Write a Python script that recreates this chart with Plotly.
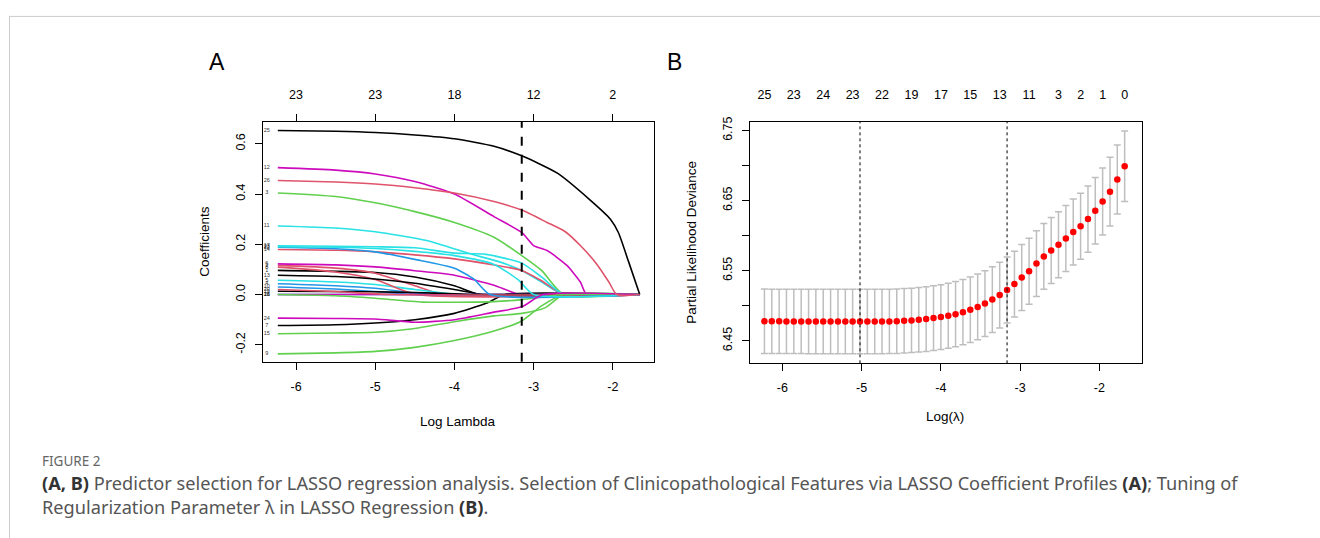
import plotly.graph_objects as go

# ---------------- Panel A data: LASSO coefficient paths ----------------
# each variable: (log-lambda knots, coefficient values)
coef_paths = {
    1:  ([-6.23, -5.0, -4.5, -4.0, -3.68], [0.096, 0.088, 0.070, 0.035, 0.0]),
    2:  ([-6.23, -5.5, -5.0, -4.5, -4.14], [0.116, 0.105, 0.085, 0.035, 0.0]),
    3:  ([-6.23, -5.5, -5.0, -4.5, -4.0, -3.5, -3.15, -2.9, -2.62], [0.404, 0.39, 0.365, 0.33, 0.287, 0.228, 0.155, 0.096, 0.0]),
    4:  ([-6.23, -5.5, -5.0, -4.3], [0.043, 0.035, 0.025, 0.0]),
    5:  ([-6.23, -5.5, -5.0, -4.5, -3.93], [0.057, 0.05, 0.04, 0.02, 0.0]),
    6:  ([-6.23, -5.5, -5.0, -4.5, -4.0, -3.5, -3.17], [0.122, 0.118, 0.11, 0.095, 0.077, 0.037, 0.0]),
    7:  ([-6.23, -5.5, -5.0, -4.5, -4.0, -3.6, -3.36], [-0.123, -0.12, -0.113, -0.1, -0.075, -0.035, 0.0]),
    8:  ([-6.23, -5.5, -5.0, -4.48], [0.109, 0.09, 0.06, 0.0]),
    9:  ([-6.23, -5.5, -5.0, -4.5, -4.0, -3.5, -3.15, -2.9, -2.62], [-0.236, -0.232, -0.226, -0.21, -0.183, -0.145, -0.105, -0.045, 0.0]),
    10: ([-6.23, -5.5, -5.0, -4.48], [0.03, 0.022, 0.012, 0.0]),
    11: ([-6.23, -5.5, -5.0, -4.35, -3.8, -3.42, -3.15, -2.9, -2.62], [0.273, 0.265, 0.25, 0.215, 0.162, 0.129, 0.096, 0.05, 0.0]),
    12: ([-6.23, -5.5, -5.0, -4.5, -4.0, -3.5, -3.15, -3.0, -2.83, -2.58, -2.41, -2.33], [0.505, 0.495, 0.48, 0.45, 0.40, 0.31, 0.247, 0.195, 0.175, 0.116, 0.05, 0.0]),
    13: ([-6.23, -5.5, -5.0, -4.5, -4.0, -3.63], [0.077, 0.072, 0.062, 0.045, 0.02, 0.0]),
    14: ([-6.23, -5.5, -5.0, -4.5, -4.0, -3.5, -3.15, -2.9, -2.62], [0.179, 0.176, 0.17, 0.158, 0.142, 0.118, 0.096, 0.055, 0.0]),
    15: ([-6.23, -5.5, -5.0, -4.5, -4.0, -3.5, -3.15, -2.85, -2.62], [-0.156, -0.153, -0.15, -0.135, -0.108, -0.085, -0.075, -0.052, 0.0]),
    16: ([-6.23, -1.66], [0.0, 0.0]),
    17: ([-6.23, -5.5, -5.0, -4.5, -4.0, -3.6, -3.15, -2.9, -2.62], [0.194, 0.192, 0.19, 0.186, 0.165, 0.16, 0.125, 0.07, 0.0]),
    18: ([-6.23, -1.66], [0.0, 0.0]),
    19: ([-6.23, -5.0, -4.5, -4.0, -3.75], [0.013, 0.011, 0.008, 0.003, 0.0]),
    20: ([-6.23, -5.5, -4.8], [0.02, 0.012, 0.0]),
    21: ([-6.23, -5.5, -5.0, -4.4, -3.5, -3.15, -2.62], [0.0, -0.005, -0.015, -0.03, -0.028, -0.02, 0.0]),
    22: ([-6.23, -5.5, -5.0, -4.5, -4.0, -3.75, -3.55], [0.188, 0.182, 0.17, 0.14, 0.105, 0.06, 0.0]),
    23: ([-6.23, -5.5, -5.0, -4.5, -4.0, -3.5, -3.2, -3.0], [0.19, 0.188, 0.183, 0.172, 0.155, 0.12, 0.06, 0.0]),
    24: ([-6.23, -5.5, -5.0, -4.5, -4.0, -3.5, -3.15, -2.88], [-0.094, -0.095, -0.097, -0.11, -0.10, -0.07, -0.049, 0.0]),
    25: ([-6.23, -5.5, -5.0, -4.5, -4.0, -3.5, -3.15, -2.7, -2.3, -2.03, -1.93, -1.8, -1.66], [0.653, 0.65, 0.645, 0.635, 0.62, 0.59, 0.552, 0.483, 0.38, 0.30, 0.247, 0.13, 0.0]),
    26: ([-6.23, -5.5, -5.0, -4.5, -4.0, -3.5, -3.15, -2.83, -2.6, -2.41, -2.2, -2.05, -1.95], [0.454, 0.448, 0.44, 0.425, 0.404, 0.37, 0.336, 0.287, 0.25, 0.195, 0.12, 0.05, 0.0]),
}
path_end = -1.66
r_palette = ["#000000", "#DF536B", "#61D04F", "#2297E6", "#28E2E5", "#CD0BBC"]

a_bottom_ticks = [-6, -5, -4, -3, -2]
a_top_labels = ["23", "23", "18", "12", "2"]
a_y_ticks = [-0.2, 0.0, 0.2, 0.4, 0.6]
a_y_labels = ["-0.2", "0.0", "0.2", "0.4", "0.6"]
a_cut = -3.15

# ---------------- Panel B data: cross-validation curve ----------------
log_lambda = [-6.226, -6.133, -6.040, -5.948, -5.855, -5.762, -5.669, -5.577, -5.484, -5.391,
              -5.298, -5.205, -5.113, -5.020, -4.927, -4.834, -4.742, -4.649, -4.556, -4.463,
              -4.370, -4.278, -4.185, -4.092, -3.999, -3.906, -3.814, -3.721, -3.628, -3.535,
              -3.443, -3.350, -3.257, -3.164, -3.071, -2.979, -2.886, -2.793, -2.700, -2.607,
              -2.515, -2.422, -2.329, -2.236, -2.143, -2.051, -1.958, -1.865, -1.773, -1.680]
cv_mean = [6.4780, 6.4779, 6.4779, 6.4778, 6.4778, 6.4778, 6.4777, 6.4777, 6.4777, 6.4777,
           6.4776, 6.4776, 6.4776, 6.4776, 6.4776, 6.4777, 6.4777, 6.4778, 6.4780, 6.4787,
           6.4792, 6.4801, 6.4811, 6.4825, 6.4839, 6.4858, 6.4881, 6.4910, 6.4943, 6.4985,
           6.5032, 6.5089, 6.5154, 6.5225, 6.5310, 6.5404, 6.5493, 6.5602, 6.5705, 6.5790,
           6.5870, 6.5960, 6.6054, 6.6134, 6.6237, 6.6355, 6.6487, 6.6628, 6.6802, 6.6991]
cv_se = [0.0459, 0.0459, 0.0459, 0.0459, 0.0459, 0.0459, 0.0459, 0.0459, 0.0459, 0.0459,
         0.0459, 0.0459, 0.0459, 0.0459, 0.0459, 0.0459, 0.0459, 0.0459, 0.0459, 0.0459,
         0.0459, 0.0460, 0.0461, 0.0462, 0.0463, 0.0464, 0.0465, 0.0466, 0.0467, 0.0468,
         0.0468, 0.0469, 0.0469, 0.0470, 0.0470, 0.0470, 0.0470, 0.0470, 0.0470, 0.0470,
         0.0470, 0.0470, 0.0471, 0.0471, 0.0472, 0.0474, 0.0478, 0.0490, 0.0492, 0.0504]
b_top_index = [0, 4, 8, 12, 16, 20, 24, 28, 32, 36, 40, 43, 46, 49]
b_top_labels = ["25", "23", "24", "23", "22", "19", "17", "15", "13", "11", "3", "2", "1", "0"]
b_bottom_ticks = [-6, -5, -4, -3, -2]
b_y_ticks = [6.45, 6.50, 6.55, 6.60, 6.65, 6.70, 6.75]
b_y_labels = ["6.45", "", "6.55", "", "6.65", "", "6.75"]
lambda_min = -5.02
lambda_1se = -3.164

# ---------------- figure ----------------
W, H = 1320, 538
fig = go.Figure()

for var, (xs, ys) in coef_paths.items():
    xx = list(xs)
    yy = list(ys)
    if xx[-1] < path_end:
        xx.append(path_end)
        yy.append(0.0)
    fig.add_trace(go.Scatter(
        x=xx, y=yy, mode="lines", xaxis="x", yaxis="y",
        line=dict(color=r_palette[(var - 1) % 6], width=1.6, shape="spline", smoothing=0.6),
        hoverinfo="skip", showlegend=False))

# variable labels at left end of paths
fig.add_trace(go.Scatter(
    x=[-6.37] * len(coef_paths), y=[v[1][0] for v in coef_paths.values()],
    text=[str(k) for k in coef_paths.keys()], mode="text",
    textfont=dict(size=5.5, color="#333333", family="Liberation Sans"),
    xaxis="x", yaxis="y", hoverinfo="skip", showlegend=False))

# dummy trace for top axis of A
fig.add_trace(go.Scatter(x=a_bottom_ticks, y=[None] * 5, xaxis="x2", yaxis="y",
                         mode="markers", marker=dict(opacity=0), hoverinfo="skip", showlegend=False))

# Panel B CV curve: error bars then points
fig.add_trace(go.Scatter(
    x=log_lambda, y=cv_mean, mode="markers", xaxis="x3", yaxis="y3",
    marker=dict(color="rgba(0,0,0,0)", size=1),
    error_y=dict(type="data", array=cv_se, color="#BEBEBE", thickness=1.5, width=3.5),
    hoverinfo="skip", showlegend=False))
fig.add_trace(go.Scatter(x=[log_lambda[i] for i in b_top_index], y=[None] * len(b_top_index),
                         xaxis="x4", yaxis="y3", mode="markers", marker=dict(opacity=0),
                         hoverinfo="skip", showlegend=False))
fig.add_trace(go.Scatter(
    x=log_lambda, y=cv_mean, mode="markers", xaxis="x3", yaxis="y3",
    marker=dict(color="#FF0000", size=6.5), hoverinfo="skip", showlegend=False))

tickfont = dict(family="Liberation Sans", size=12.5, color="#000000")
ax_common = dict(showgrid=False, zeroline=False, showline=True, linecolor="#000000", linewidth=1,
                 ticks="outside", ticklen=7, tickcolor="#000000", tickwidth=1, tickfont=tickfont)

a_x_dom = [263 / W, 654 / W]
b_x_dom = [750 / W, 1141.7 / W]
y_dom_a = [1 - 360 / H, 1 - 118 / H]
y_dom_b = [1 - 361.7 / H, 1 - 118 / H]
a_xr = [-6.417, -1.48]
b_xr = [-6.408, -1.465]

fig.update_layout(
    width=W, height=H, margin=dict(l=0, r=0, t=0, b=0),
    paper_bgcolor="white", plot_bgcolor="white",
    xaxis=dict(domain=a_x_dom, range=a_xr, anchor="y", mirror=True,
               tickvals=a_bottom_ticks, ticktext=[str(t) for t in a_bottom_ticks],
               ticklabelstandoff=6, **ax_common),
    xaxis2=dict(overlaying="x", side="top", anchor="y", range=a_xr,
                tickvals=a_bottom_ticks, ticktext=a_top_labels, ticklabelstandoff=10, **ax_common),
    yaxis=dict(domain=y_dom_a, range=[-0.267, 0.687], anchor="x", mirror=True,
               tickvals=a_y_ticks, ticktext=a_y_labels, tickangle=-90, ticklabelstandoff=5, **ax_common),
    xaxis3=dict(domain=b_x_dom, range=b_xr, anchor="y3", mirror=True,
                tickvals=b_bottom_ticks, ticktext=[str(t) for t in b_bottom_ticks],
                ticklabelstandoff=6, **ax_common),
    xaxis4=dict(overlaying="x3", side="top", anchor="y3", range=b_xr,
                tickvals=[log_lambda[i] for i in b_top_index], ticktext=b_top_labels,
                showgrid=False, zeroline=False, showline=False, ticks="", tickfont=tickfont,
                ticklabelstandoff=19),
    yaxis3=dict(domain=y_dom_b, range=[6.418, 6.7623], anchor="x3", mirror=True,
                tickvals=b_y_ticks, ticktext=b_y_labels, tickangle=-90, ticklabelstandoff=5, **ax_common),
)

# reference vertical lines
fig.add_shape(type="line", xref="x", yref="y domain", x0=a_cut, x1=a_cut, y0=0, y1=1,
              line=dict(color="#000000", width=2, dash="dash"))
for v in (lambda_min, lambda_1se):
    fig.add_shape(type="line", xref="x3", yref="y3 domain", x0=v, x1=v, y0=0, y1=1,
                  line=dict(color="#000000", width=1, dash="dot"))

# page frame
fig.add_shape(type="line", xref="paper", yref="paper", x0=9.5 / W, x1=9.5 / W, y0=0, y1=1 - 11.5 / H,
              line=dict(color="#CCCCCC", width=1))
fig.add_shape(type="line", xref="paper", yref="paper", x0=9.5 / W, x1=1, y0=1 - 11.5 / H, y1=1 - 11.5 / H,
              line=dict(color="#CCCCCC", width=1))

def ann(text, x, y, size, angle=0, color="#000000", family="Liberation Sans", xanchor="center"):
    fig.add_annotation(text=text, x=x / W, y=1 - y / H, xref="paper", yref="paper",
                       showarrow=False, textangle=angle, xanchor=xanchor, yanchor="middle",
                       font=dict(size=size, color=color, family=family))

ann("Log Lambda", 458, 420, 13.5)
ann("Coefficients", 205, 239, 13.5, angle=-90)
ann("Log(λ)", 945, 415, 13.5)
ann("Partial Likelihood Deviance", 692, 240, 13.5, angle=-90)
ann("A", 217, 58, 23)
ann("B", 674, 58, 23)

ann("FIGURE 2", 40, 460, 13.5, color="#666666", family="Noto Sans", xanchor="left")
ann("<b style='color:#333333'>(A, B)</b> Predictor selection for LASSO regression analysis. Selection of Clinicopathological "
    "Features via LASSO Coefficient Profiles <b style='color:#333333'>(A)</b>; Tuning of", 40, 482, 18.2, color="#555555",
    family="Noto Sans", xanchor="left")
ann("Regularization Parameter λ in LASSO Regression <b style='color:#333333'>(B)</b>.", 40, 507, 18.2, color="#555555",
    family="Noto Sans", xanchor="left")

fig.write_html("out.html", config={"displayModeBar": False},
               post_script="document.body.style.margin='0px';document.body.style.overflow='hidden';")
